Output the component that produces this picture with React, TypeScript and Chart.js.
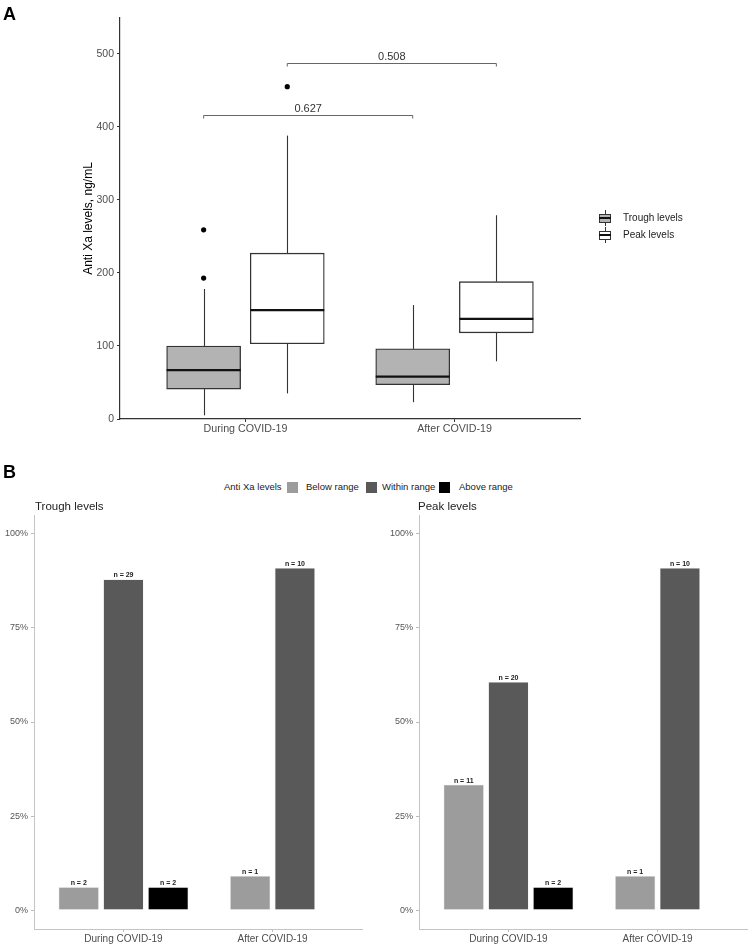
import React, { useEffect, useRef } from "react";
import { Chart, registerables } from "chart.js";

Chart.register(...registerables);

const FONT = "'Liberation Sans', Arial, Helvetica, sans-serif";
Chart.defaults.font.family = FONT;

// ---------- Panel A : box plots ----------
const groups = ["During COVID-19", "After COVID-19"];
const groupPos = [1, 2];
const seriesNames = ["Trough levels", "Peak levels"];
// [lower whisker, Q1, median, Q3, upper whisker]
const troughDuring = [5, 41, 67, 100, 178];
const troughAfter = [23, 47, 58, 96, 156];
const peakDuring = [35, 103, 149, 227, 388];
const peakAfter = [79, 118, 137, 188, 279];
const troughOutliers = [[193, 259], []];
const peakOutliers = [[455], []];
const pValues = ["0.627", "0.508"];
const pHeights = [416, 487];
const yTicksA = [0, 100, 200, 300, 400, 500];

// ---------- Panel B : bar charts ----------
const rangeCats = ["Below range", "Within range", "Above range"];
const troughCountsDuring = [2, 29, 2];
const troughCountsAfter = [1, 10, 0];
const peakCountsDuring = [11, 20, 2];
const peakCountsAfter = [1, 10, 0];
const pctTicks = [0, 0.25, 0.5, 0.75, 1];

// styles
const boxOffsets = [-0.2, 0.2];
const boxFills = ["#b3b3b3", "#ffffff"];
const rangeColors = ["#9c9c9c", "#595959", "#000000"];
const dodgeStep = 0.3;

const boxStats = [
  [troughDuring, troughAfter],
  [peakDuring, peakAfter],
];
const outliers = [troughOutliers, peakOutliers];

function line(ctx: CanvasRenderingContext2D, x1: number, y1: number, x2: number, y2: number) {
  ctx.beginPath();
  ctx.moveTo(x1, y1);
  ctx.lineTo(x2, y2);
  ctx.stroke();
}

const boxPlugin = {
  id: "boxExtras",
  beforeDatasetsDraw(chart: any) {
    const { ctx, scales } = chart;
    const x = scales.x, y = scales.y;
    ctx.save();
    ctx.strokeStyle = "#333";
    ctx.lineWidth = 1.1;
    boxStats.forEach((stats, s) => {
      stats.forEach((st, g) => {
        const px = Math.round(x.getPixelForValue(groupPos[g] + boxOffsets[s])) + 0.5;
        line(ctx, px, y.getPixelForValue(st[0]), px, y.getPixelForValue(st[1]));
        line(ctx, px, y.getPixelForValue(st[3]), px, y.getPixelForValue(st[4]));
      });
    });
    ctx.restore();
  },
  afterDatasetsDraw(chart: any) {
    const { ctx, scales } = chart;
    const x = scales.x, y = scales.y;
    ctx.save();
    // medians
    ctx.strokeStyle = "#111";
    ctx.lineWidth = 2.2;
    boxStats.forEach((stats, s) => {
      const meta = chart.getDatasetMeta(s);
      stats.forEach((st, g) => {
        const el = meta.data[g];
        const half = el.width / 2;
        const py = y.getPixelForValue(st[2]);
        line(ctx, el.x - half, py, el.x + half, py);
      });
    });
    // significance brackets
    ctx.strokeStyle = "#666";
    ctx.lineWidth = 1;
    ctx.fillStyle = "#333";
    ctx.font = `11px ${FONT}`;
    ctx.textAlign = "center";
    ctx.textBaseline = "alphabetic";
    pValues.forEach((p, s) => {
      const x1 = x.getPixelForValue(groupPos[0] + boxOffsets[s]);
      const x2 = x.getPixelForValue(groupPos[1] + boxOffsets[s]);
      const py = Math.round(y.getPixelForValue(pHeights[s])) + 0.5;
      ctx.beginPath();
      ctx.moveTo(x1, py + 3);
      ctx.lineTo(x1, py);
      ctx.lineTo(x2, py);
      ctx.lineTo(x2, py + 3);
      ctx.stroke();
      ctx.fillText(p, (x1 + x2) / 2, py - 4);
    });
    ctx.restore();
  },
};

function configA(): any {
  const boxDatasets = boxStats.map((stats, s) => ({
    type: "bar",
    label: seriesNames[s],
    data: stats.map((st, g) => ({ x: groupPos[g] + boxOffsets[s], y: [st[1], st[3]] })),
    backgroundColor: boxFills[s],
    borderColor: "#333",
    borderWidth: 1.3,
    borderSkipped: false,
    barThickness: 74,
    grouped: false,
  }));
  const outlierData: { x: number; y: number }[] = [];
  outliers.forEach((byGroup, s) =>
    byGroup.forEach((vals, g) => vals.forEach((v) => outlierData.push({ x: groupPos[g] + boxOffsets[s], y: v })))
  );
  return {
    type: "bar",
    data: {
      datasets: [
        ...boxDatasets,
        {
          type: "scatter",
          label: "Outliers",
          data: outlierData,
          backgroundColor: "#000",
          borderColor: "#000",
          pointRadius: 2.6,
          borderWidth: 0,
        },
      ],
    },
    options: {
      responsive: false,
      animation: false,
      devicePixelRatio: 1,
      layout: { padding: { top: 18, right: 169, bottom: 0, left: 0 } },
      plugins: { legend: { display: false }, tooltip: { enabled: false }, title: { display: false } },
      scales: {
        x: {
          type: "linear",
          min: 0.4,
          max: 2.6,
          offset: false,
          afterBuildTicks: (s: any) => {
            s.ticks = groupPos.map((v) => ({ value: v }));
          },
          afterFit: (s: any) => {
            s.height = 26;
          },
          ticks: {
            callback: (v: number) => groups[groupPos.indexOf(v)],
            font: { size: 10.7 },
            color: "#4d4d4d",
            padding: 1,
            maxRotation: 0,
            autoSkip: false,
          },
          grid: { display: true, drawOnChartArea: false, drawTicks: true, tickLength: 3, tickColor: "#333", offset: false },
          border: { display: true, color: "#333", width: 1.2 },
        },
        y: {
          type: "linear",
          min: 0,
          max: 549,
          afterBuildTicks: (s: any) => {
            s.ticks = yTicksA.map((v) => ({ value: v }));
          },
          afterFit: (s: any) => {
            s.width = 120;
          },
          ticks: { font: { size: 10.5 }, color: "#4d4d4d", padding: 3 },
          grid: { display: true, drawOnChartArea: false, drawTicks: true, tickLength: 3, tickColor: "#333" },
          border: { display: true, color: "#333", width: 1.2 },
          title: {
            display: true,
            text: "Anti Xa levels, ng/mL",
            font: { size: 12 },
            color: "#000",
            padding: { top: 81, bottom: 0 },
          },
        },
      },
    },
    plugins: [boxPlugin],
  };
}

const nLabelPlugin = {
  id: "nLabels",
  afterDatasetsDraw(chart: any) {
    const { ctx } = chart;
    ctx.save();
    ctx.font = `bold 7px ${FONT}`;
    ctx.fillStyle = "#222";
    ctx.textAlign = "center";
    ctx.textBaseline = "alphabetic";
    chart.data.datasets.forEach((ds: any, i: number) => {
      const meta = chart.getDatasetMeta(i);
      meta.data.forEach((el: any, k: number) => {
        ctx.fillText(`n = ${ds.data[k].n}`, el.x, el.y - 2);
      });
    });
    ctx.restore();
  },
};

function buildBarDatasets(countsByGroup: number[][]) {
  return rangeCats.map((cat, i) => {
    const data: { x: number; y: number; n: number }[] = [];
    countsByGroup.forEach((counts, g) => {
      const present = counts.map((c, k) => (c > 0 ? k : -1)).filter((k) => k >= 0);
      const j = present.indexOf(i);
      if (j < 0) return;
      const total = counts.reduce((a, b) => a + b, 0);
      data.push({
        x: groupPos[g] + (j - (present.length - 1) / 2) * dodgeStep,
        y: counts[i] / total,
        n: counts[i],
      });
    });
    return {
      type: "bar",
      label: cat,
      data,
      backgroundColor: rangeColors[i],
      borderColor: "#f2f2f2",
      borderWidth: 0.8,
      borderSkipped: false,
      barThickness: 40,
      grouped: false,
    };
  });
}

function configB(countsByGroup: number[][], rightPad: number): any {
  return {
    type: "bar",
    data: { datasets: buildBarDatasets(countsByGroup) },
    options: {
      responsive: false,
      animation: false,
      devicePixelRatio: 1,
      layout: { padding: { top: 15, right: rightPad, bottom: 0, left: 0 } },
      plugins: { legend: { display: false }, tooltip: { enabled: false }, title: { display: false } },
      scales: {
        x: {
          type: "linear",
          min: 0.4,
          max: 2.6,
          offset: false,
          afterBuildTicks: (s: any) => {
            s.ticks = groupPos.map((v) => ({ value: v }));
          },
          afterFit: (s: any) => {
            s.height = 16;
          },
          ticks: {
            callback: (v: number) => groups[groupPos.indexOf(v)],
            font: { size: 10 },
            color: "#4d4d4d",
            padding: 1,
            maxRotation: 0,
            autoSkip: false,
          },
          grid: { display: true, drawOnChartArea: false, drawTicks: true, tickLength: 3, tickColor: "#bbb", offset: false },
          border: { display: true, color: "#c4c4c4", width: 1 },
        },
        y: {
          type: "linear",
          min: -0.05,
          max: 1.05,
          afterBuildTicks: (s: any) => {
            s.ticks = pctTicks.map((v) => ({ value: v }));
          },
          afterFit: (s: any) => {
            s.width = 34;
          },
          ticks: {
            callback: (v: number) => `${Math.round(v * 100)}%`,
            font: { size: 9 },
            color: "#555",
            padding: 3,
          },
          grid: { display: true, drawOnChartArea: false, drawTicks: true, tickLength: 3, tickColor: "#bbb" },
          border: { display: true, color: "#c4c4c4", width: 1 },
        },
      },
    },
    plugins: [nLabelPlugin],
  };
}

const abs = (left: number, top: number, extra: React.CSSProperties = {}): React.CSSProperties => ({
  position: "absolute",
  left,
  top,
  whiteSpace: "nowrap",
  fontFamily: FONT,
  ...extra,
});

function BoxKey({ fill }: { fill: string }) {
  return (
    <div style={{ position: "relative", width: 12, height: 16 }}>
      <div style={{ position: "absolute", left: 5.5, top: 0, width: 1, height: 16, background: "#333" }} />
      <div
        style={{
          position: "absolute",
          left: 0,
          top: 3.5,
          width: 10,
          height: 7,
          border: "1px solid #333",
          background: fill,
        }}
      />
      <div style={{ position: "absolute", left: 0, top: 7.2, width: 12, height: 1.6, background: "#111" }} />
    </div>
  );
}

export default function App() {
  const aRef = useRef<HTMLCanvasElement>(null);
  const bLRef = useRef<HTMLCanvasElement>(null);
  const bRRef = useRef<HTMLCanvasElement>(null);

  useEffect(() => {
    const charts = [
      new Chart(aRef.current as HTMLCanvasElement, configA()),
      new Chart(bLRef.current as HTMLCanvasElement, configB([troughCountsDuring, troughCountsAfter], 10)),
      new Chart(bRRef.current as HTMLCanvasElement, configB([peakCountsDuring, peakCountsAfter], 2)),
    ];
    return () => charts.forEach((c) => c.destroy());
  }, []);

  const legendB = [
    { x: 287, tx: 306 },
    { x: 366, tx: 382 },
    { x: 439, tx: 459 },
  ];

  return (
    <div style={{ position: "absolute", left: 0, top: 0, width: 749, height: 945, background: "#fff", overflow: "hidden" }}>
      <canvas ref={aRef} width={749} height={445} style={{ position: "absolute", left: 0, top: 0 }} />
      <canvas ref={bLRef} width={372} height={445} style={{ position: "absolute", left: 0, top: 500 }} />
      <canvas ref={bRRef} width={364} height={445} style={{ position: "absolute", left: 385, top: 500 }} />

      <div style={abs(3, 5, { fontSize: 18, fontWeight: "bold", lineHeight: "18px", color: "#000" })}>A</div>
      <div style={abs(3, 463, { fontSize: 18, fontWeight: "bold", lineHeight: "18px", color: "#000" })}>B</div>

      {seriesNames.map((name, s) => (
        <div key={name} style={abs(599, 210 + s * 17, { display: "flex", alignItems: "center", height: 16 })}>
          <BoxKey fill={boxFills[s]} />
          <span style={{ marginLeft: 12, fontSize: 10, color: "#222", lineHeight: "16px" }}>{name}</span>
        </div>
      ))}

      <div style={abs(224, 480, { fontSize: 9.5, lineHeight: "14px", color: "#222" })}>Anti Xa levels</div>
      {rangeCats.map((cat, i) => (
        <React.Fragment key={cat}>
          <div style={abs(legendB[i].x, 482, { width: 11, height: 11, background: rangeColors[i] })} />
          <div style={abs(legendB[i].tx, 480, { fontSize: 9.5, lineHeight: "14px", color: "#222" })}>{cat}</div>
        </React.Fragment>
      ))}

      <div style={abs(35, 498, { fontSize: 11.5, lineHeight: "16px", color: "#222" })}>Trough levels</div>
      <div style={abs(418, 498, { fontSize: 11.5, lineHeight: "16px", color: "#222" })}>Peak levels</div>
    </div>
  );
}
